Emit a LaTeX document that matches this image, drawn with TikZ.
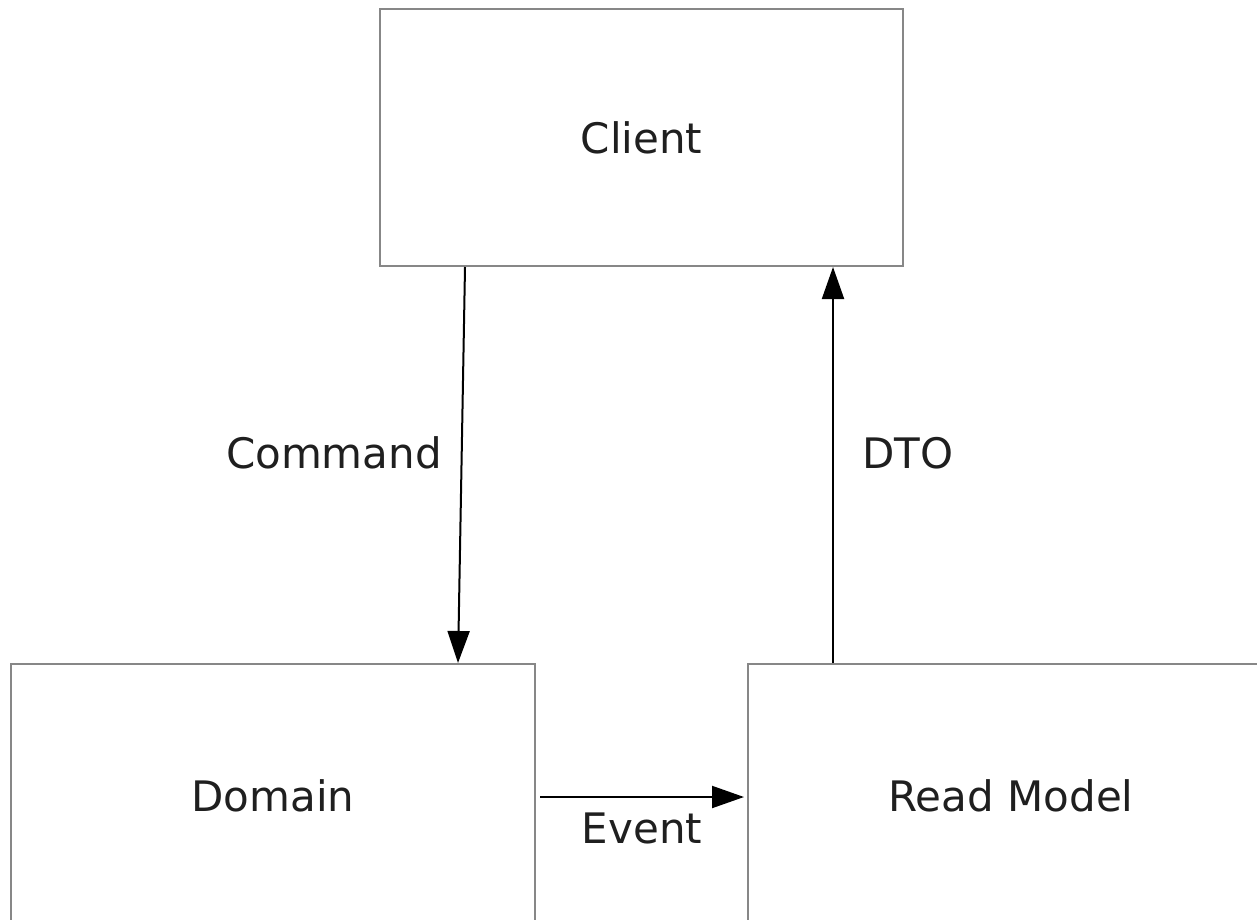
\documentclass[tikz,border=0pt]{standalone}
\usepackage{fontspec}
\setmainfont{DejaVu Sans}
\usetikzlibrary{arrows.meta}
\begin{document}
\begin{tikzpicture}[x=1pt,y=-1pt,
  box/.style={draw=black!47,line width=2pt,fill=white,inner sep=0pt,text=black!88,font=\fontsize{42}{50}\selectfont},
  lbl/.style={inner sep=0pt,text=black!88,font=\fontsize{42}{50}\selectfont},
  arr/.style={draw=black,line width=2pt,-{Triangle[length=32pt,width=22pt]}}]
\useasboundingbox[fill=white] (0,0) rectangle (1257,920);
\node[box,minimum width=523pt,minimum height=257pt] (client) at (641.5,137.5) {Client};
\node[box,minimum width=524pt,minimum height=264pt] (domain) at (273,796) {Domain};
\node[box,minimum width=526pt,minimum height=264pt] (readmodel) at (1011,796) {Read Model};
\draw[arr] ([xshift=-176.5pt]client.south) -- ([xshift=185pt]domain.north);
\draw[arr] ([xshift=-178pt]readmodel.north) -- ([xshift=191.5pt]client.south);
\draw[arr] ([xshift=4pt,yshift=-1pt]domain.east) -- ([xshift=-3pt,yshift=-1pt]readmodel.west);
\node[lbl] (command) at (334,453) {Command};
\node[lbl] (dto) at (908,453) {DTO};
\node[lbl] (event) at (642,828) {Event};
\end{tikzpicture}
\end{document}
